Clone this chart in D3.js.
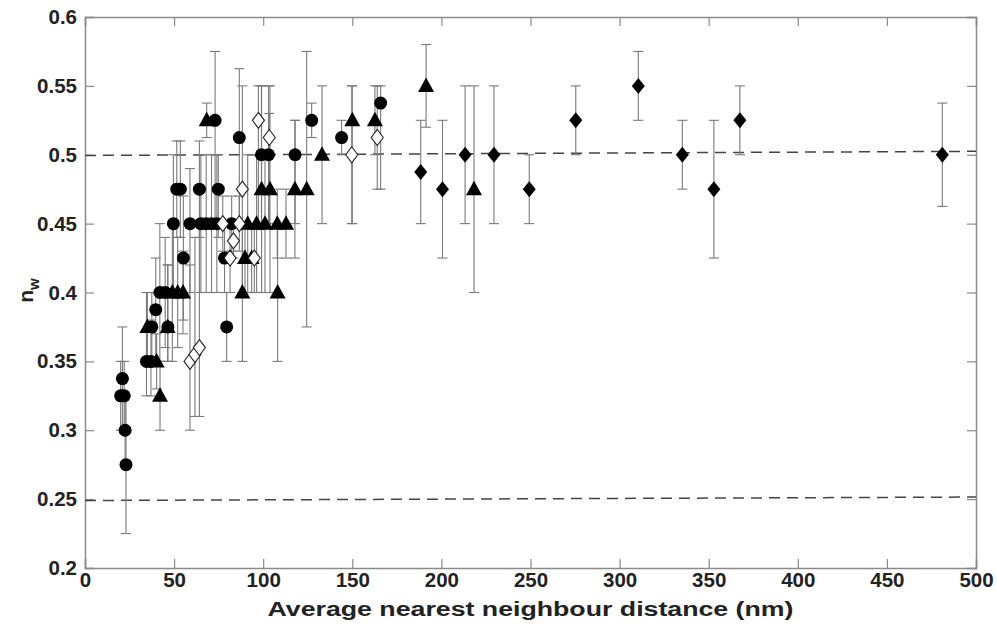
<!DOCTYPE html>
<html><head><meta charset="utf-8">
<script src="https://cdn.jsdelivr.net/npm/d3@7"></script>
<style>body{margin:0;background:#fff}svg{display:block}</style>
</head><body>
<script>
// data: [x, y, errLow, errHigh]
const circles = [
  [20, 0.325, 0.300, 0.350], [21, 0.3375, 0.300, 0.375], [22, 0.325, 0.300, 0.350],
  [22.5, 0.300, 0.275, 0.325], [23, 0.275, 0.225, 0.325],
  [34.5, 0.350, 0.325, 0.400], [37, 0.350, 0.325, 0.380], [37.5, 0.375, 0.350, 0.400],
  [39.7, 0.3875, 0.350, 0.425], [42, 0.400, 0.350, 0.450], [45, 0.400, 0.360, 0.440],
  [46.5, 0.375, 0.350, 0.420], [49.6, 0.450, 0.400, 0.500], [51.5, 0.475, 0.440, 0.510],
  [53.5, 0.475, 0.440, 0.510], [55.2, 0.425, 0.380, 0.470], [58.9, 0.450, 0.400, 0.490],
  [64.2, 0.475, 0.440, 0.510], [65, 0.450, 0.400, 0.500], [68, 0.450, 0.400, 0.500],
  [71, 0.450, 0.400, 0.500], [74, 0.450, 0.400, 0.500], [73, 0.525, 0.450, 0.575],
  [74.8, 0.475, 0.440, 0.500], [78.3, 0.425, 0.400, 0.450], [79.5, 0.375, 0.350, 0.400],
  [82.3, 0.450, 0.430, 0.470], [86.6, 0.5125, 0.450, 0.5625], [99, 0.500, 0.450, 0.550],
  [103, 0.500, 0.450, 0.550], [117.9, 0.500, 0.450, 0.525], [127.2, 0.525, 0.5125, 0.5375],
  [144, 0.5125, 0.500, 0.525], [165.9, 0.5375, 0.475, 0.550]
];
const triangles = [
  [35, 0.375, 0.350, 0.400], [40.2, 0.350, 0.330, 0.370], [42.1, 0.325, 0.300, 0.350],
  [46.4, 0.375, 0.350, 0.420], [49, 0.400, 0.350, 0.450], [52, 0.400, 0.360, 0.440],
  [55, 0.400, 0.370, 0.430], [68.3, 0.525, 0.5125, 0.5375], [88.3, 0.400, 0.350, 0.450],
  [89.8, 0.425, 0.400, 0.450], [93.5, 0.425, 0.400, 0.450], [91.3, 0.450, 0.400, 0.500],
  [96.3, 0.450, 0.400, 0.500], [101, 0.450, 0.400, 0.500], [99.1, 0.475, 0.400, 0.550],
  [103.8, 0.475, 0.400, 0.550], [107.9, 0.450, 0.425, 0.475], [112.8, 0.450, 0.425, 0.475],
  [108.1, 0.400, 0.350, 0.450], [117.8, 0.475, 0.425, 0.525], [124.4, 0.475, 0.375, 0.575],
  [133, 0.500, 0.450, 0.550], [150, 0.525, 0.450, 0.550], [162.7, 0.525, 0.500, 0.550],
  [191.4, 0.550, 0.520, 0.580], [218.3, 0.475, 0.400, 0.550]
];
const openDiamonds = [
  [58.9, 0.350, 0.300, 0.420], [61.7, 0.355, 0.310, 0.440], [64.2, 0.360, 0.310, 0.450],
  [77.3, 0.450, 0.430, 0.470], [81.4, 0.425, 0.400, 0.450], [83.3, 0.4375, 0.425, 0.450],
  [86.6, 0.450, 0.430, 0.470], [88.3, 0.475, 0.400, 0.550], [95, 0.425, 0.400, 0.450],
  [97.3, 0.525, 0.450, 0.550], [103.4, 0.5125, 0.450, 0.530], [149.7, 0.500, 0.450, 0.550],
  [164, 0.5125, 0.475, 0.550]
];
const filledDiamonds = [
  [188.4, 0.4875, 0.450, 0.525], [200.6, 0.475, 0.425, 0.525], [213.3, 0.500, 0.450, 0.550],
  [229.5, 0.500, 0.450, 0.550], [249.3, 0.475, 0.450, 0.500], [275.4, 0.525, 0.500, 0.550],
  [310.5, 0.550, 0.525, 0.575], [335.2, 0.500, 0.475, 0.525], [352.9, 0.475, 0.425, 0.525],
  [367.5, 0.525, 0.500, 0.550], [481.1, 0.500, 0.4625, 0.5375]
];
const refLines = [[[0, 0.4995], [500, 0.5025]], [[0, 0.249], [500, 0.2515]]];
const xTicks = [0, 50, 100, 150, 200, 250, 300, 350, 400, 450, 500];
const yTicks = [0.2, 0.25, 0.3, 0.35, 0.4, 0.45, 0.5, 0.55, 0.6];
const xTitle = "Average nearest neighbour distance (nm)";

const W = 997, H = 628;
const m = {left: 85, top: 17, right: 21, bottom: 60};
const iw = W - m.left - m.right, ih = H - m.top - m.bottom;
const svg = d3.select("body").append("svg").attr("width", W).attr("height", H);
const g = svg.append("g").attr("transform", `translate(${m.left},${m.top})`);
const x = d3.scaleLinear().domain([0, 500]).range([0, iw]);
const y = d3.scaleLinear().domain([0.2, 0.6]).range([ih, 0]);

const font = "'Liberation Sans', Arial, sans-serif";
const axisCol = "#8a8a8a";
const tickLen = 9;

const fmt = d => String(+d.toFixed(3));
const xa = g.append("g").attr("transform", `translate(0,${ih})`)
  .call(d3.axisBottom(x).tickValues(xTicks).tickSize(-tickLen).tickPadding(6).tickFormat(d3.format("d")));
const xaTop = g.append("g").call(d3.axisTop(x).tickValues(xTicks).tickSize(-tickLen).tickFormat(""));
const ya = g.append("g")
  .call(d3.axisLeft(y).tickValues(yTicks).tickSize(-tickLen).tickPadding(8).tickFormat(fmt));
const yaR = g.append("g").attr("transform", `translate(${iw},0)`)
  .call(d3.axisRight(y).tickValues(yTicks).tickSize(-tickLen).tickFormat(""));
[xa, xaTop, ya, yaR].forEach(a => {
  a.select(".domain").attr("stroke", axisCol).attr("stroke-width", 1.5);
  a.selectAll(".tick line").attr("stroke", axisCol).attr("stroke-width", 1.2);
  a.selectAll("text").attr("font-family", font).attr("font-weight", "bold")
    .attr("font-size", 20.5).attr("fill", "#222");
});
xa.selectAll("text").attr("dy", "0.62em");

// ref lines
g.selectAll(".ref").data(refLines).join("line")
  .attr("x1", d => x(d[0][0])).attr("y1", d => y(d[0][1]))
  .attr("x2", d => x(d[1][0])).attr("y2", d => y(d[1][1]))
  .attr("stroke", "#444").attr("stroke-width", 1.5).attr("stroke-dasharray", "11,7");

// error bars
const errCol = "#7a7a7a";
const allPts = [...circles, ...triangles, ...openDiamonds, ...filledDiamonds];
const eb = g.append("g");
allPts.forEach(d => {
  const cx = x(d[0]);
  eb.append("line").attr("x1", cx).attr("x2", cx).attr("y1", y(d[2])).attr("y2", y(d[3]))
    .attr("stroke", errCol).attr("stroke-width", 1.1);
  [d[2], d[3]].forEach(v => {
    eb.append("line").attr("x1", cx - 5).attr("x2", cx + 5).attr("y1", y(v)).attr("y2", y(v))
      .attr("stroke", errCol).attr("stroke-width", 1.1);
  });
});

// markers
g.append("g").selectAll("circle").data(circles).join("circle")
  .attr("cx", d => x(d[0])).attr("cy", d => y(d[1])).attr("r", 6.5).attr("fill", "#000");
g.append("g").selectAll("path").data(triangles).join("path")
  .attr("d", d => { const cx = x(d[0]), cy = y(d[1]);
    return `M${cx},${cy - 8.5}L${cx + 8},${cy + 6}L${cx - 8},${cy + 6}Z`; })
  .attr("fill", "#000");
g.append("g").selectAll("path").data(openDiamonds).join("path")
  .attr("d", d => { const cx = x(d[0]), cy = y(d[1]);
    return `M${cx},${cy - 8}L${cx + 6},${cy}L${cx},${cy + 8}L${cx - 6},${cy}Z`; })
  .attr("fill", "#fff").attr("stroke", "#222").attr("stroke-width", 1.1);
g.append("g").selectAll("path").data(filledDiamonds).join("path")
  .attr("d", d => { const cx = x(d[0]), cy = y(d[1]);
    return `M${cx},${cy - 8}L${cx + 6.5},${cy}L${cx},${cy + 8}L${cx - 6.5},${cy}Z`; })
  .attr("fill", "#000");

// titles
svg.append("text").attr("x", m.left + iw / 2).attr("y", 616).attr("text-anchor", "middle")
  .attr("font-family", font).attr("font-weight", "bold").attr("font-size", 20)
  .attr("textLength", 526).attr("lengthAdjust", "spacingAndGlyphs")
  .attr("fill", "#222").text(xTitle);
const yl = svg.append("text").attr("transform", `translate(33,${m.top + ih / 2 - 2}) rotate(-90)`)
  .attr("text-anchor", "middle").attr("font-family", font).attr("font-weight", "bold")
  .attr("font-size", 21).attr("fill", "#222");
yl.append("tspan").text("n");
yl.append("tspan").attr("font-size", 15).attr("dy", 6).text("w");
</script>
</body></html>
